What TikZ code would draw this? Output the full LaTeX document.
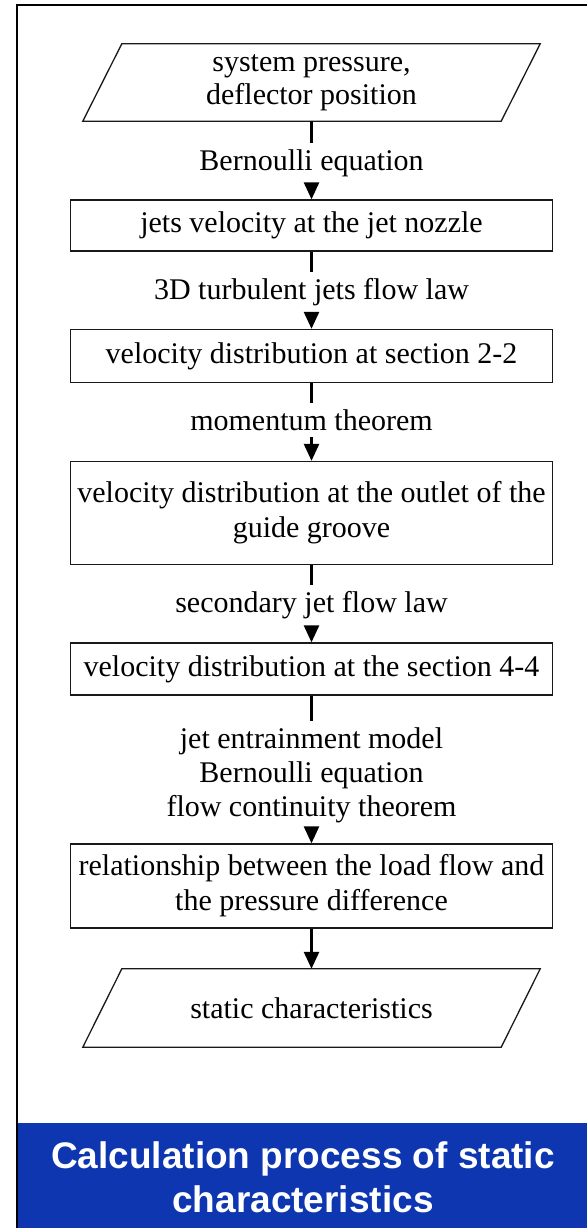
\documentclass[tikz,border=0pt]{standalone}
\usepackage{fontspec}
\setmainfont{Liberation Serif}
\newfontfamily\bannerfont{Liberation Sans}
\usetikzlibrary{arrows.meta}
\definecolor{BannerClr}{rgb}{0.05,0.21,0.69}
\definecolor{LineClr}{rgb}{0.1,0.1,0.1}

\begin{document}
\begin{tikzpicture}[x=1pt,y=-1pt,
  box/.style={draw=LineClr,line width=1.3pt,minimum width=482pt,inner sep=0pt,
    align=center,font=\fontsize{30}{35}\selectfont},
  io/.style={minimum width=418pt,inner sep=0pt,align=center,font=\fontsize{30}{33}\selectfont},
  lab/.style={inner sep=6.5pt,align=center,font=\fontsize{30}{34}\selectfont},
  flow/.style={line width=2.6pt},
  flowarr/.style={line width=2.6pt,-{Triangle[width=15pt,length=17pt]}}]
\useasboundingbox (0,0) rectangle (587,1228);

% frame and title bar
\fill[BannerClr] (17,1123) rectangle (587,1228);
\draw[line width=2.5pt] (17,1228) -- (17,5) -- (587,5);

% flow chart
\node[io,minimum height=77pt] (src) at (311.5,82.5) {system pressure,\\deflector position};
\node[lab] (l1) at (311.5,163) {Bernoulli equation};
\node[box,minimum height=51pt] (b1) at (311.5,225.5) {jets velocity at the jet nozzle};
\node[lab] (l2) at (311.5,292) {3D turbulent jets flow law};
\node[box,minimum height=53pt] (b2) at (311.5,356) {velocity distribution at section 2-2};
\node[lab] (l3) at (311.5,420) {momentum theorem};
\node[box,minimum height=103pt] (b3) at (311.5,513) {velocity distribution at the outlet of the\\guide groove};
\node[lab] (l4) at (311.5,605) {secondary jet flow law};
\node[box,minimum height=52pt] (b4) at (311.5,669) {velocity distribution at the section 4-4};
\node[lab] (l5) at (311.5,775) {jet entrainment model\\Bernoulli equation\\flow continuity theorem};
\node[box,minimum height=84pt] (b5) at (311.5,886) {relationship between the load flow and\\the pressure difference};
\node[io,minimum height=78pt] (out) at (311.5,1008) {static characteristics};

% the two data boxes
\foreach \n in {src,out}
  \draw[LineClr,line width=1.3pt] ([xshift=-19.5pt]\n.south west) -- ([xshift=19.5pt]\n.north west)
    -- ([xshift=19.5pt]\n.north east) -- ([xshift=-19.5pt]\n.south east) -- cycle;

\draw[flow] (src.south) -- (l1.north);
\draw[flowarr] (l1.south) -- (b1.north);
\draw[flow] (b1.south) -- (l2.north);
\draw[flowarr] (l2.south) -- (b2.north);
\draw[flow] (b2.south) -- (l3.north);
\draw[flowarr] (l3.south) -- (b3.north);
\draw[flow] (b3.south) -- (l4.north);
\draw[flowarr] (l4.south) -- (b4.north);
\draw[flow] (b4.south) -- (l5.north);
\draw[flowarr] (l5.south) -- (b5.north);
\draw[flowarr] (b5.south) -- (out.north);

\node[text=white,align=center,font=\bannerfont\bfseries\fontsize{37}{44}\selectfont] (ttl) at (303,1177)
  {Calculation process of static\\characteristics};
\end{tikzpicture}
\end{document}
